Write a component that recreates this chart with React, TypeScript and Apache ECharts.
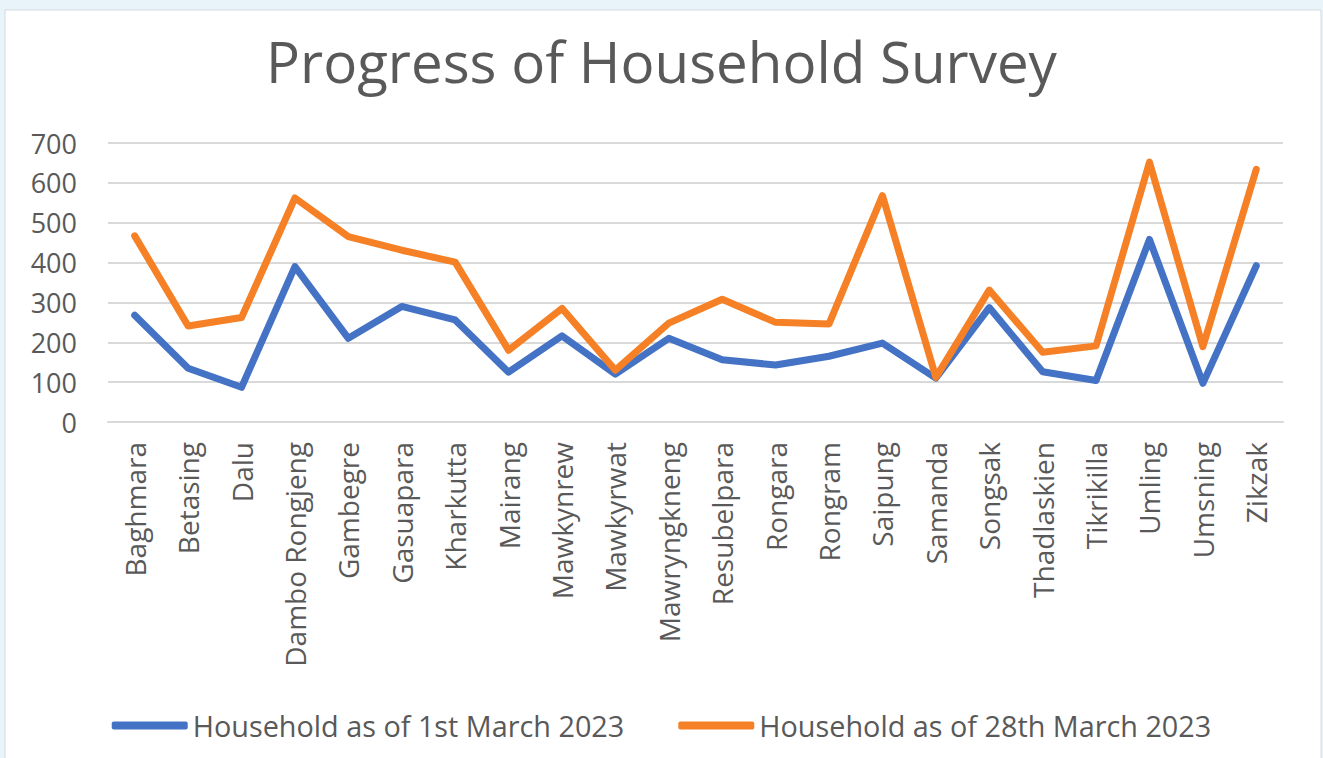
import React, { useEffect, useRef } from "react";
import * as echarts from "echarts";

const categories = [
  "Baghmara", "Betasing", "Dalu", "Dambo Rongjeng", "Gambegre", "Gasuapara",
  "Kharkutta", "Mairang", "Mawkynrew", "Mawkyrwat", "Mawryngkneng", "Resubelpara",
  "Rongara", "Rongram", "Saipung", "Samanda", "Songsak", "Thadlaskien",
  "Tikrikilla", "Umling", "Umsning", "Zikzak",
];
const march1 = [268, 135, 87, 390, 210, 290, 256, 125, 216, 120, 210, 156, 143, 165, 198, 110, 287, 126, 104, 458, 97, 392];
const march28 = [467, 241, 262, 562, 465, 431, 401, 180, 285, 130, 248, 308, 250, 246, 568, 112, 331, 175, 191, 652, 189, 634];
const seriesNames = ["Household as of 1st March 2023", "Household as of 28th March 2023"];
const titleText = "Progress of Household Survey";

const TFONT = "'Open Sans', 'Noto Sans', sans-serif";
const AXISFONT = "'Open Sans', 'Noto Sans', sans-serif";

export default function App() {
  const ref = useRef<HTMLDivElement>(null);
  useEffect(() => {
    document.body.style.margin = "0";
    const chart = echarts.init(ref.current!, null, { renderer: "svg" });
    chart.setOption({
      animation: false,
      graphic: [
        {
          type: "rect",
          shape: { x: 5, y: 10, width: 1316, height: 760 },
          style: { fill: "#ffffff", stroke: "#D3DAE1", lineWidth: 1 },
          z: -10,
        },
      ],
      title: {
        text: titleText,
        left: "center",
        top: 28,
        textStyle: { fontFamily: TFONT, fontSize: 56.5, fontWeight: "normal", color: "#595959" },
      },
      legend: {
        bottom: 13,
        left: "center",
        itemWidth: 76,
        itemHeight: 8,
        itemGap: 54,
        icon: "roundRect",
        textStyle: { fontFamily: TFONT, fontSize: 28.8, color: "#595959" },
        data: seriesNames,
      },
      grid: { left: 108, right: 40, top: 143, bottom: 336, containLabel: false },
      xAxis: {
        type: "category",
        data: categories,
        boundaryGap: true,
        axisLine: { show: true, lineStyle: { color: "#D9D9D9", width: 2 } },
        axisTick: { show: false },
        axisLabel: {
          interval: 0,
          rotate: 90,
          margin: 20,
          fontFamily: AXISFONT,
          fontSize: 28,
          color: "#595959",
        },
      },
      yAxis: {
        type: "value",
        min: 0,
        max: 700,
        interval: 100,
        axisLine: { show: false },
        axisTick: { show: false },
        splitLine: { lineStyle: { color: "#D9D9D9", width: 2 } },
        axisLabel: { margin: 31, fontFamily: AXISFONT, fontSize: 27, color: "#595959" },
      },
      series: [
        {
          name: seriesNames[0],
          type: "line",
          data: march1,
          symbol: "none",
          color: "#4472C4",
          lineStyle: { width: 7, cap: "round", join: "round", color: "#4472C4" },
        },
        {
          name: seriesNames[1],
          type: "line",
          data: march28,
          symbol: "none",
          color: "#F58025",
          lineStyle: { width: 7, cap: "round", join: "round", color: "#F58025" },
        },
      ],
    });
    return () => chart.dispose();
  }, []);
  return (
    <div style={{ position: "fixed", left: 0, top: 0, width: 1323, height: 758, background: "#E8F3FA" }}>
      <div ref={ref} style={{ width: 1323, height: 758 }} />
    </div>
  );
}
